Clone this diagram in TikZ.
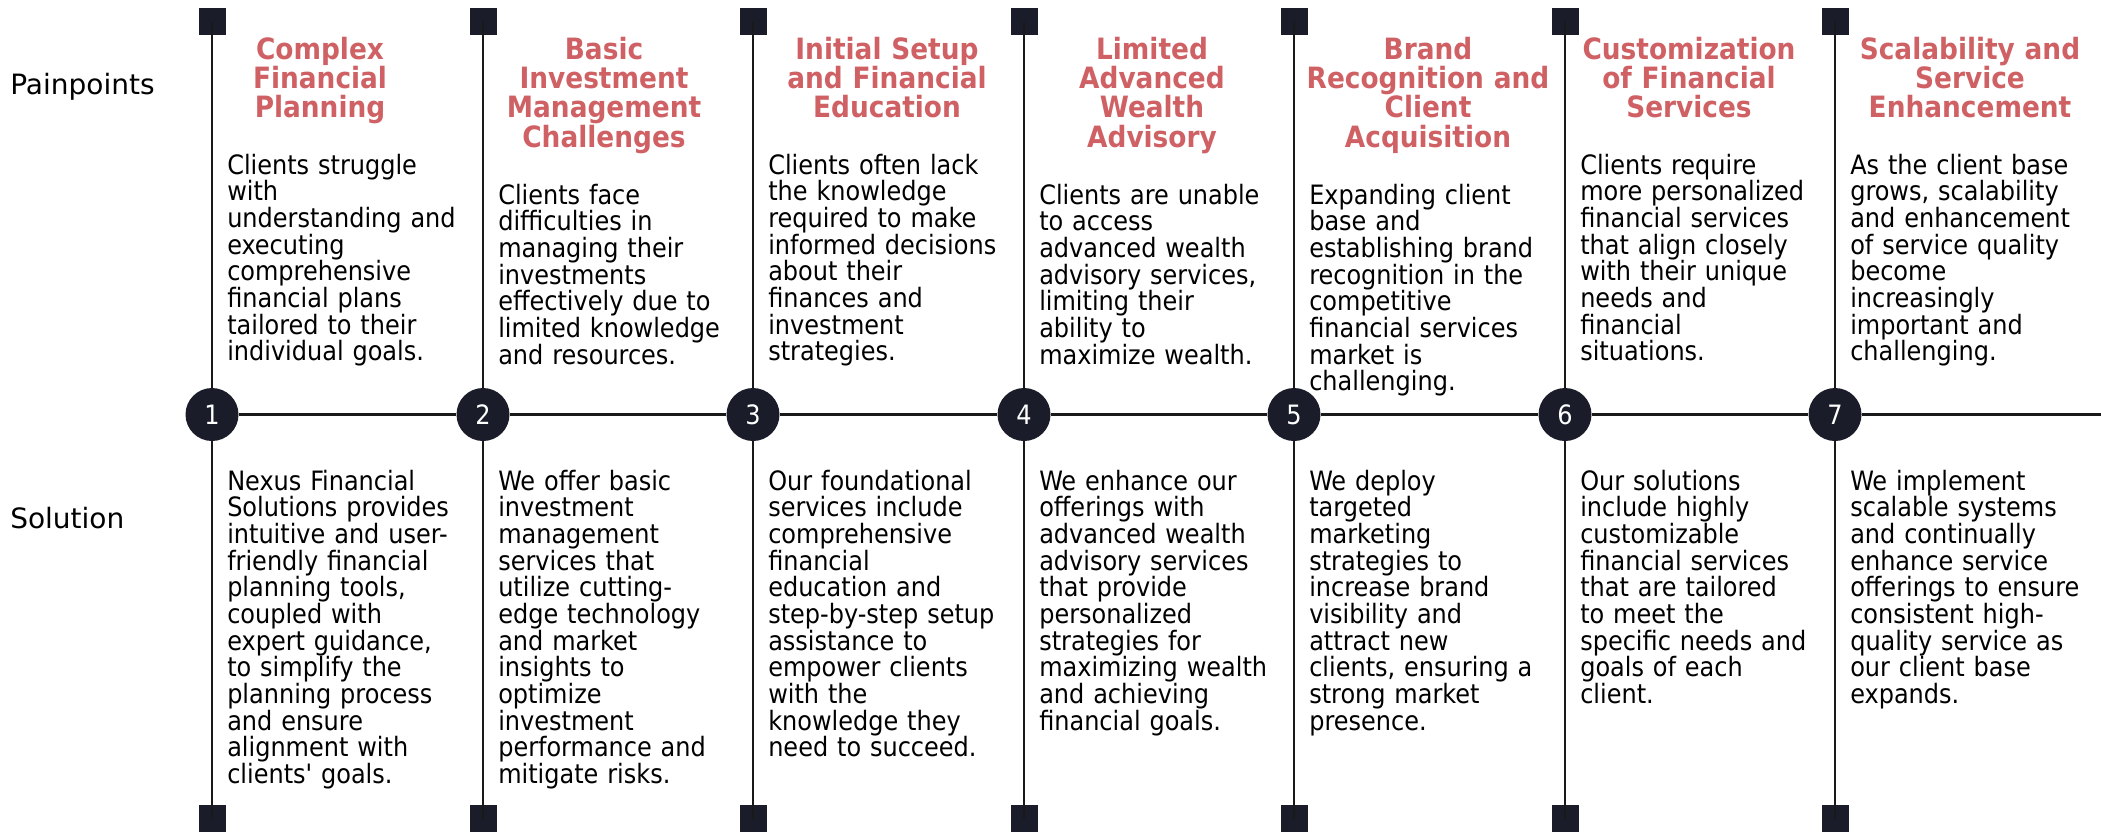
\documentclass[tikz,border=0pt]{standalone}
\usepackage{fontspec}
\setmainfont{DejaVu Sans Condensed}
\newfontfamily\rowfont{DejaVu Sans}
\usepackage{tikz}
\usetikzlibrary{positioning}

\definecolor{painred}{RGB}{207,97,101}
\definecolor{navy}{RGB}{26,29,41}

\begin{document}
\begin{tikzpicture}[
    x=0.75pt, y=-0.75pt,
    rule/.style={line width=2pt, draw=black!90},
    endcap/.style={rectangle, fill=navy, minimum size=20.25pt, inner sep=0pt},
    stepnum/.style={circle, fill=navy, text=white, minimum size=39.75pt, inner sep=0pt, font=\fontsize{20}{20}\selectfont},
    rowlabel/.style={anchor=base west, inner sep=0pt, font=\rowfont\fontsize{21}{21}\selectfont},
    title/.style={anchor=base, inner sep=0pt, text width=190pt, align=center, text=painred, font=\fontsize{22}{22.1}\selectfont\bfseries},
    body/.style={anchor=base west, inner sep=0pt, text width=190pt, align=left, font=\fontsize{20}{20}\selectfont}
]
\useasboundingbox (0,0) rectangle (2101,833);

% Row labels
\node[rowlabel] (pain) at (10, 94) {Painpoints};
\node[rowlabel] (sol) at (10, 528) {Solution};

% End caps of the vertical rules
\node[endcap] (t1) at (212, 21.5) {};  \node[endcap] (b1) at (212, 818.5) {};
\node[endcap] (t2) at (483, 21.5) {};  \node[endcap] (b2) at (483, 818.5) {};
\node[endcap] (t3) at (753, 21.5) {};  \node[endcap] (b3) at (753, 818.5) {};
\node[endcap] (t4) at (1024, 21.5) {}; \node[endcap] (b4) at (1024, 818.5) {};
\node[endcap] (t5) at (1294, 21.5) {}; \node[endcap] (b5) at (1294, 818.5) {};
\node[endcap] (t6) at (1565, 21.5) {}; \node[endcap] (b6) at (1565, 818.5) {};
\node[endcap] (t7) at (1835, 21.5) {}; \node[endcap] (b7) at (1835, 818.5) {};

\draw[rule] (t1.center) -- (b1.center);
\draw[rule] (t2.center) -- (b2.center);
\draw[rule] (t3.center) -- (b3.center);
\draw[rule] (t4.center) -- (b4.center);
\draw[rule] (t5.center) -- (b5.center);
\draw[rule] (t6.center) -- (b6.center);
\draw[rule] (t7.center) -- (b7.center);

% Timeline with numbered steps
\node[stepnum] (n1) at (212, 414.5) {1};
\node[stepnum] (n2) at (483, 414.5) {2};
\node[stepnum] (n3) at (753, 414.5) {3};
\node[stepnum] (n4) at (1024, 414.5) {4};
\node[stepnum] (n5) at (1294, 414.5) {5};
\node[stepnum] (n6) at (1565, 414.5) {6};
\node[stepnum] (n7) at (1835, 414.5) {7};
\coordinate (tail) at (2101, 414.5);
\draw[rule] (n1) -- (n2) -- (n3) -- (n4) -- (n5) -- (n6) -- (n7) -- (tail);

% Step 1
\node[title] (h1) at (320, 59) {Complex\\Financial\\Planning};
\node[body] (p1) at (227, 174) {Clients struggle\\with\\understanding and\\executing\\comprehensive\\financial plans\\tailored to their\\individual goals.};
\node[body] (s1) at (227, 490) {Nexus Financial\\Solutions provides\\intuitive and user-\\friendly financial\\planning tools,\\coupled with\\expert guidance,\\to simplify the\\planning process\\and ensure\\alignment with\\clients\textquotesingle{} goals.};

% Step 2
\node[title] (h2) at (604, 59) {Basic\\Investment\\Management\\Challenges};
\node[body] (p2) at (498, 204) {Clients face\\difficulties in\\managing their\\investments\\effectively due to\\limited knowledge\\and resources.};
\node[body] (s2) at (498, 490) {We offer basic\\investment\\management\\services that\\utilize cutting-\\edge technology\\and market\\insights to\\optimize\\investment\\performance and\\mitigate risks.};

% Step 3
\node[title] (h3) at (887, 59) {Initial Setup\\and Financial\\Education};
\node[body] (p3) at (768, 174) {Clients often lack\\the knowledge\\required to make\\informed decisions\\about their\\finances and\\investment\\strategies.};
\node[body] (s3) at (768, 490) {Our foundational\\services include\\comprehensive\\financial\\education and\\step-by-step setup\\assistance to\\empower clients\\with the\\knowledge they\\need to succeed.};

% Step 4
\node[title] (h4) at (1152, 59) {Limited\\Advanced\\Wealth\\Advisory};
\node[body] (p4) at (1039, 204) {Clients are unable\\to access\\advanced wealth\\advisory services,\\limiting their\\ability to\\maximize wealth.};
\node[body] (s4) at (1039, 490) {We enhance our\\offerings with\\advanced wealth\\advisory services\\that provide\\personalized\\strategies for\\maximizing wealth\\and achieving\\financial goals.};

% Step 5
\node[title] (h5) at (1428, 59) {Brand\\Recognition and\\Client\\Acquisition};
\node[body] (p5) at (1309, 204) {Expanding client\\base and\\establishing brand\\recognition in the\\competitive\\financial services\\market is\\challenging.};
\node[body] (s5) at (1309, 490) {We deploy\\targeted\\marketing\\strategies to\\increase brand\\visibility and\\attract new\\clients, ensuring a\\strong market\\presence.};

% Step 6
\node[title] (h6) at (1689, 59) {Customization\\of Financial\\Services};
\node[body] (p6) at (1580, 174) {Clients require\\more personalized\\financial services\\that align closely\\with their unique\\needs and\\financial\\situations.};
\node[body] (s6) at (1580, 490) {Our solutions\\include highly\\customizable\\financial services\\that are tailored\\to meet the\\specific needs and\\goals of each\\client.};

% Step 7
\node[title] (h7) at (1970, 59) {Scalability and\\Service\\Enhancement};
\node[body] (p7) at (1850, 174) {As the client base\\grows, scalability\\and enhancement\\of service quality\\become\\increasingly\\important and\\challenging.};
\node[body] (s7) at (1850, 490) {We implement\\scalable systems\\and continually\\enhance service\\offerings to ensure\\consistent high-\\quality service as\\our client base\\expands.};

\end{tikzpicture}
\end{document}
